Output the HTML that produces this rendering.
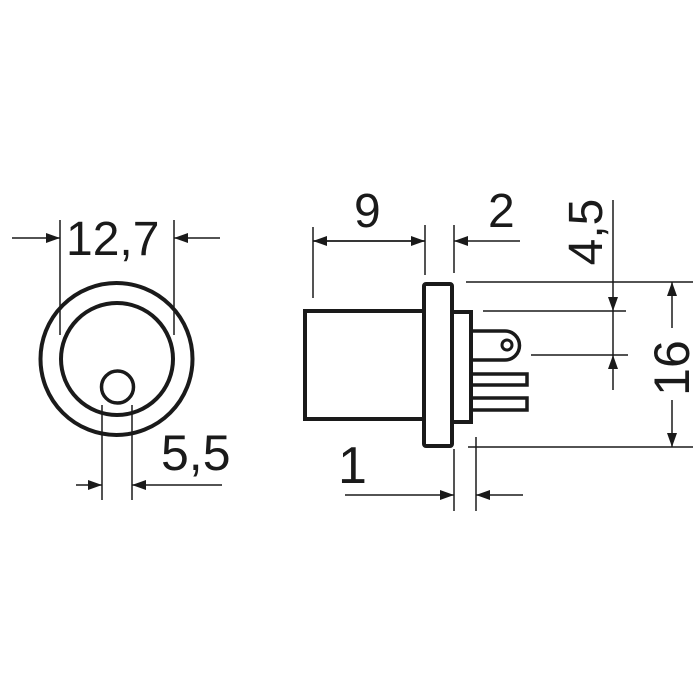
<!DOCTYPE html>
<html><head><meta charset="utf-8"><style>
html,body{margin:0;padding:0;background:#fff;}
svg{display:block;}
text{font-family:"Liberation Sans",Arial,sans-serif;fill:#1a1a1a;}
</style></head><body>
<svg width="700" height="700" viewBox="0 0 700 700" xmlns="http://www.w3.org/2000/svg">
<defs>
<marker id="a" viewBox="0 0 14 10" refX="14" refY="5" markerWidth="14" markerHeight="10" markerUnits="userSpaceOnUse" orient="auto">
<path d="M0,0 L14,5 L0,10 Z" fill="#1a1a1a"/>
</marker>
</defs>
<g fill="none" stroke="#1a1a1a">
<circle cx="116.5" cy="359" r="76" stroke-width="4"/>
<circle cx="117" cy="359" r="56" stroke-width="4"/>
<circle cx="117.5" cy="387" r="16" stroke-width="3.5"/>
<g stroke-width="1.5">
<line x1="60" y1="220" x2="60" y2="335"/>
<line x1="174" y1="220" x2="174" y2="335"/>
<line x1="12" y1="238" x2="60" y2="238" marker-end="url(#a)"/>
<line x1="220" y1="238" x2="174" y2="238" marker-end="url(#a)"/>
<line x1="102" y1="405" x2="102" y2="500"/>
<line x1="132" y1="405" x2="132" y2="500"/>
<line x1="76" y1="485" x2="102" y2="485" marker-end="url(#a)"/>
<line x1="222" y1="485" x2="132" y2="485" marker-end="url(#a)"/>
</g>
<rect x="305" y="311" width="119" height="108" stroke-width="4"/>
<rect x="424" y="284" width="28" height="162" rx="2" stroke-width="4"/>
<rect x="452" y="312" width="19" height="110" stroke-width="4"/>
<path d="M471,331 L505,331 A14.5,14.5 0 0 1 505,360 L471,360" stroke-width="3.5"/>
<circle cx="507" cy="345" r="5" stroke-width="3"/>
<path d="M471,374 L527,374 L527,385 L471,385" stroke-width="3.5"/>
<path d="M471,398 L527,398 L527,410 L471,410" stroke-width="3.5"/>
<g stroke-width="1.5">
<line x1="313" y1="227" x2="313" y2="298"/>
<line x1="425" y1="225" x2="425" y2="275"/>
<line x1="313" y1="241" x2="425" y2="241" marker-end="url(#a)"/>
<line x1="425" y1="241" x2="313" y2="241" marker-end="url(#a)"/>
<line x1="454" y1="225" x2="454" y2="273"/>
<line x1="520" y1="241" x2="454" y2="241" marker-end="url(#a)"/>
<line x1="466" y1="282" x2="693" y2="282"/>
<line x1="468" y1="447" x2="693" y2="447"/>
<line x1="483" y1="311" x2="626" y2="311"/>
<line x1="531" y1="355" x2="628" y2="355"/>
<line x1="613" y1="200" x2="613" y2="311" marker-end="url(#a)"/>
<line x1="613" y1="311" x2="613" y2="355"/>
<line x1="613" y1="390" x2="613" y2="355" marker-end="url(#a)"/>
<line x1="672" y1="328" x2="672" y2="282" marker-end="url(#a)"/>
<line x1="672" y1="400" x2="672" y2="447" marker-end="url(#a)"/>
<line x1="454" y1="449" x2="454" y2="511"/>
<line x1="476" y1="437" x2="476" y2="511"/>
<line x1="345" y1="495" x2="454" y2="495" marker-end="url(#a)"/>
<line x1="523" y1="495" x2="476" y2="495" marker-end="url(#a)"/>
</g>
</g>
<text x="66" y="255" font-size="48">12,7</text>
<text x="161" y="470" font-size="50">5,5</text>
<text x="354" y="227" font-size="48">9</text>
<text x="488" y="227" font-size="48">2</text>
<text x="338" y="483" font-size="52">1</text>
<text transform="translate(602,232) rotate(-90)" text-anchor="middle" font-size="48">4,5</text>
<text transform="translate(689,368) rotate(-90)" text-anchor="middle" font-size="50">16</text>
</svg>
</body></html>
